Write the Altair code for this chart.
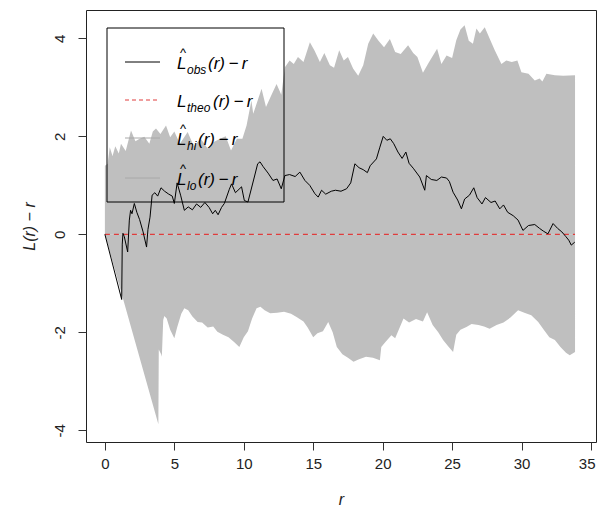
import altair as alt
import pandas as pd

# ---------------- data ----------------
r_obs = [0, 1.21, 1.25, 1.3, 1.4, 1.64, 1.76, 1.85, 1.95, 2.12, 2.3, 2.5, 2.75, 3.0, 3.1,
         3.25, 3.4, 3.6, 3.8, 4.04, 4.3, 4.6, 4.85, 5.0, 5.2, 5.45, 5.72, 6.0, 6.3, 6.6,
         6.9, 7.2, 7.5, 7.76, 7.95, 8.15, 8.4, 8.6, 8.96, 9.12, 9.4, 9.84, 10.04, 10.3,
         10.76, 11.0, 11.17, 11.4, 11.75, 12.1, 12.4, 12.7, 12.96, 13.3, 13.7, 14.04,
         14.4, 14.75, 15.12, 15.36, 15.6, 15.9, 16.3, 16.6, 17.0, 17.4, 17.7, 18.0, 18.3,
         18.6, 18.9, 19.1, 19.55, 19.8, 20.04, 20.3, 20.55, 20.8, 21.1, 21.4, 21.67, 21.9,
         22.2, 22.67, 23.03, 23.15, 23.5, 23.9, 24.23, 24.6, 24.8, 25.07, 25.4, 25.67,
         25.9, 26.25, 26.56, 26.8, 27.15, 27.4, 27.8, 28.1, 28.43, 28.7, 29.0, 29.4,
         29.75, 30.1, 30.5, 30.95, 31.3, 31.6, 31.9, 32.27, 32.6, 32.9, 33.2, 33.4,
         33.58, 33.83]
v_obs = [0, -1.33, -0.2, 0.02, -0.05, -0.36, 0.29, 0.49, 0.42, 0.63, 0.45, 0.3, 0.05, -0.26,
         0.1, 0.35, 0.8, 0.85, 0.78, 0.95, 0.88, 0.82, 0.78, 0.63, 1.05, 0.8, 0.49, 0.56,
         0.5, 0.62, 0.55, 0.65, 0.55, 0.42, 0.49, 0.4, 0.55, 0.63, 0.92, 1.03, 0.85, 0.97,
         0.69, 0.66, 1.17, 1.44, 1.48, 1.38, 1.25, 1.1, 1.13, 0.93, 1.2, 1.22, 1.18, 1.27,
         1.1, 1.0, 0.83, 0.76, 0.9, 0.82, 0.88, 0.9, 0.88, 0.93, 1.05, 1.44, 1.36, 1.32,
         1.26, 1.4, 1.54, 1.78, 2.0, 1.92, 1.95, 1.85, 1.68, 1.55, 1.68, 1.45, 1.35, 1.17,
         0.9, 1.2, 1.12, 1.1, 1.17, 1.15, 1.08, 0.86, 0.7, 0.52, 0.72, 0.8, 0.95, 0.75,
         0.62, 0.75, 0.65, 0.68, 0.52, 0.6, 0.45, 0.38, 0.29, 0.08, 0.18, 0.2, 0.12, 0.06,
         0.01, 0.22, 0.12, 0.05, -0.05, -0.12, -0.22, -0.16]

r_hi = [0, 0.2, 0.35, 0.55, 0.75, 1.0, 1.16, 1.5, 1.88, 2.2, 2.5, 2.84, 3.2, 3.45, 3.68,
        4.0, 4.4, 4.7, 5.0, 5.4, 5.96, 6.4, 6.9, 7.4, 7.8, 8.3, 8.7, 9.08, 9.5, 9.9, 10.2,
        10.55, 10.68, 11.28, 11.6, 12.0, 12.36, 12.7, 12.96, 13.3, 13.6, 13.9, 14.3,
        14.76, 15.1, 15.48, 15.8, 16.2, 16.5, 16.87, 17.2, 17.5, 17.88, 18.24, 18.6,
        18.96, 19.32, 19.7, 20.1, 20.52, 20.9, 21.3, 21.83, 22.2, 22.5, 22.9, 23.3,
        23.92, 24.23, 24.6, 25.0, 25.3, 25.6, 25.9, 26.2, 26.5, 26.75, 27.0, 27.35,
        27.7, 28.07, 28.55, 28.9, 29.3, 29.7, 29.99, 30.5, 30.95, 31.3, 31.5, 31.79,
        32.4, 33.0, 33.85]
v_hi = [1.4, 1.44, 1.78, 1.6, 1.8, 1.65, 1.85, 1.7, 2.12, 1.9, 1.95, 1.99, 1.85, 2.1, 2.16,
        2.05, 2.22, 1.98, 2.1, 1.85, 2.09, 1.8, 1.95, 1.75, 1.88, 1.95, 2.0, 1.71, 1.95,
        1.95, 2.22, 2.73, 2.46, 2.97, 2.6, 2.85, 3.07, 2.85, 3.41, 3.55, 3.48, 3.62, 3.52,
        3.92, 3.75, 3.52, 3.7, 3.45, 3.4, 3.76, 3.55, 3.62, 3.38, 3.24, 3.45, 3.89, 4.1,
        3.95, 3.82, 3.99, 3.72, 3.68, 3.86, 3.7, 3.62, 3.3, 3.5, 3.79, 3.48, 3.65, 3.6,
        3.96, 4.18, 4.27, 3.95, 3.89, 4.2, 4.1, 4.23, 4.0, 3.76, 3.48, 3.55, 3.52, 3.55,
        3.31, 3.28, 3.14, 3.18, 3.12, 3.28, 3.25, 3.24, 3.25]

r_lo = [0, 3.85, 3.88, 4.05, 4.1, 4.2, 4.28, 4.45, 4.7, 5.0, 5.2, 5.5, 5.72, 6.0, 6.3, 6.68,
        7.0, 7.4, 7.8, 8.1, 8.5, 8.9, 9.3, 9.68, 10.0, 10.3, 10.6, 10.92, 11.2, 11.5, 11.9,
        12.4, 12.9, 13.4, 13.8, 14.3, 14.6, 15.0, 15.3, 15.7, 16.08, 16.4, 16.7, 17.1,
        17.5, 17.9, 18.3, 18.8, 19.3, 19.8, 19.9, 20.2, 20.63, 20.9, 21.5, 21.9, 22.4,
        22.9, 23.2, 23.6, 24.0, 24.35, 24.7, 25.07, 25.3, 25.6, 26.03, 26.4, 26.9, 27.3,
        27.7, 28.2, 28.7, 29.2, 29.75, 30.2, 30.7, 31.2, 31.6, 32.0, 32.4, 32.8, 33.2,
        33.47, 33.85]
v_lo = [0, -3.88, -2.35, -2.45, -2.5, -1.75, -1.67, -1.72, -1.95, -2.12, -1.9, -1.62, -1.51,
        -1.55, -1.68, -1.79, -1.8, -1.9, -1.88, -1.99, -2.05, -2.1, -2.2, -2.3, -2.1, -1.98,
        -1.72, -1.51, -1.48, -1.55, -1.61, -1.6, -1.58, -1.62, -1.69, -1.78, -1.9, -2.1,
        -2.02, -1.98, -1.79, -2.0, -2.3, -2.45, -2.52, -2.6, -2.55, -2.5, -2.52, -2.57,
        -2.3, -2.2, -2.06, -2.12, -1.72, -1.8, -1.73, -1.78, -1.59, -1.85, -2.0, -2.16,
        -2.28, -2.4, -2.05, -1.95, -1.89, -1.83, -1.85, -1.88, -1.93, -1.85, -1.8, -1.7,
        -1.55, -1.6, -1.65, -1.79, -1.95, -2.1, -2.16, -2.3, -2.42, -2.47, -2.4]

r_theo = [0, 33.85]
v_theo = [0, 0]

x_ticks = [0, 5, 10, 15, 20, 25, 30, 35]
y_ticks = [-4, -2, 0, 2, 4]
x_domain = [-1.36, 35.36]
y_domain = [-4.24, 4.58]

legend_subs = ["obs", "theo", "hi", "lo"]
legend_hat = [True, False, True, True]

# ---------------- chart ----------------
FONT = "Liberation Sans"
W, H = 510, 432

xs = alt.Scale(domain=x_domain, nice=False, zero=False)
ys = alt.Scale(domain=y_domain, nice=False, zero=False)

x_axis = alt.Axis(values=x_ticks, title="r", titleFontStyle="italic", titleFontWeight="normal",
                  titleFontSize=16, titleFont=FONT, titleX=W / 2, titleY=57,
                  titleBaseline="middle", titleAlign="center", grid=False, domain=False,
                  tickSize=8, tickColor="#333", labelFont=FONT, labelFontSize=15,
                  labelColor="#222", titleColor="#222", labelOverlap=False,
                  labelFlush=5, labelFlushOffset=4,
                  labelPadding=6, labelExpr="'' + datum.value")
y_axis = alt.Axis(values=y_ticks, title="L(r) \u2212 r", titleFontStyle="italic",
                  titleFontWeight="normal", titleFontSize=16, titleFont=FONT,
                  titleX=-57, titleY=216, titleAngle=270, titleBaseline="middle",
                  titleAlign="center", labelAngle=270, labelAlign="center",
                  labelBaseline="bottom", labelPadding=11, grid=False, domain=False,
                  tickSize=8, tickColor="#333", labelFont=FONT, labelFontSize=15,
                  labelColor="#222", titleColor="#222",
                  labelExpr="'' + datum.value")


def frame(r, v):
    return pd.DataFrame({"r": r, "v": v, "base": [0.0] * len(r)})


X = alt.X("r:Q", scale=xs, axis=x_axis)
Y = alt.Y("v:Q", scale=ys, axis=y_axis)

GRAY = "#bfbfbf"
hi_area = alt.Chart(frame(r_hi, v_hi)).mark_area(color=GRAY, interpolate="linear").encode(
    x=X, y=Y, y2="base:Q")
lo_area = alt.Chart(frame(r_lo, v_lo)).mark_area(color=GRAY, interpolate="linear").encode(
    x=X, y=Y, y2="base:Q")
theo_line = alt.Chart(frame(r_theo, v_theo)).mark_line(
    color="#e03c3c", strokeDash=[5, 4], strokeWidth=1.1).encode(x=X, y=Y)
obs_line = alt.Chart(frame(r_obs, v_obs)).mark_line(
    color="black", strokeWidth=1).encode(x=X, y=Y)

layers = [hi_area, lo_area, theo_line, obs_line]

one = alt.Data(values=[{"k": 0}])

# legend box (positions are layout, in pixels of the plot area)
layers.append(alt.Chart(one).mark_rect(fill=None, fillOpacity=0, stroke="black",
                                        strokeWidth=1).encode(
    x=alt.value(21), x2=alt.value(198), y=alt.value(18), y2=alt.value(192)))

line_styles = [("black", [1, 0]), ("#e03c3c", [4, 3]), ("#a8a8a8", [1, 0]), ("#a8a8a8", [1, 0])]
row_y = [52, 90, 128, 168]
sub_w = [20, 25, 10, 10]
for i, sub in enumerate(legend_subs):
    yy = row_y[i]
    col, dash = line_styles[i]
    layers.append(alt.Chart(one).mark_rule(color=col, strokeDash=dash, strokeWidth=1).encode(
        x=alt.value(39), x2=alt.value(74), y=alt.value(yy)))
    layers.append(alt.Chart(one).mark_text(font=FONT, fontSize=17, fontStyle="italic",
                                           align="left", baseline="middle",
                                           color="black").encode(
        x=alt.value(91), y=alt.value(yy + 2), text=alt.value("L")))
    if legend_hat[i]:
        layers.append(alt.Chart(one).mark_text(font=FONT, fontSize=13, align="center",
                                               baseline="middle", color="black").encode(
            x=alt.value(97), y=alt.value(yy - 9), text=alt.value("^")))
    layers.append(alt.Chart(one).mark_text(font=FONT, fontSize=12, fontStyle="italic",
                                           align="left", baseline="middle",
                                           color="black").encode(
        x=alt.value(101), y=alt.value(yy + 8), text=alt.value(sub)))
    layers.append(alt.Chart(one).mark_text(font=FONT, fontSize=17, fontStyle="italic",
                                           align="left", baseline="middle",
                                           color="black").encode(
        x=alt.value(102 + sub_w[i]), y=alt.value(yy + 2),
        text=alt.value("(r)\u2009\u2212\u2009r")))

chart = alt.layer(*layers).properties(
    width=W, height=H,
    background="white",
    autosize=alt.AutoSizeParams(type="none"),
    padding={"left": 78, "top": 2, "right": 1, "bottom": 66},
).configure_view(stroke="#222", strokeWidth=1)

chart.save("out.html", embed_options={"renderer": "svg", "actions": False})
